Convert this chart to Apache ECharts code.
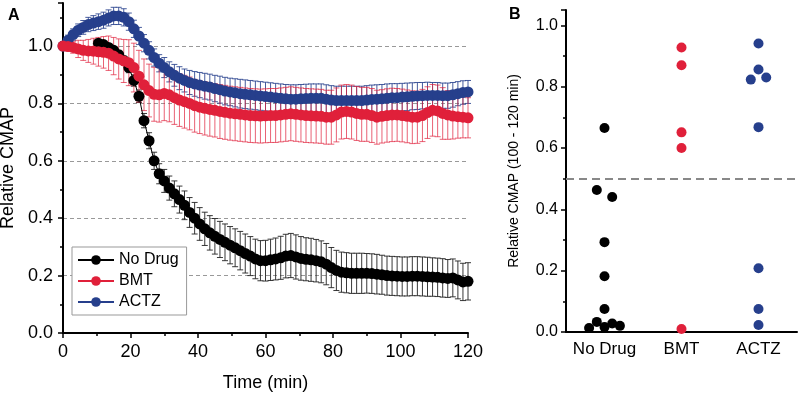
<!DOCTYPE html>
<html>
<head>
<meta charset="utf-8">
<script src="https://cdn.jsdelivr.net/npm/echarts@6/dist/echarts.min.js"></script>
<style>
  html, body { margin: 0; padding: 0; background: #fff; }
  #main { width: 800px; height: 397px; }
</style>
</head>
<body>
<div id="main"></div>
<script>
// ---- panel A: relative CMAP over time (sampled every 1.5 min) ----
var time = [];
for (var k = 0; k <= 80; k++) time.push(k * 1.5);

var noDrug = [null, null, null, null, null, null, null,
  1.01, 1.005, 0.995, 0.985, 0.97, 0.95, 0.925, 0.88, 0.825, 0.74, 0.67, 0.6, 0.555, 0.53,
  0.505, 0.485, 0.465, 0.445, 0.42, 0.4, 0.38, 0.363, 0.349, 0.337, 0.326, 0.316, 0.306, 0.297,
  0.287, 0.277, 0.268, 0.258, 0.252, 0.252, 0.255, 0.258, 0.262, 0.268, 0.27, 0.265, 0.26, 0.257,
  0.255, 0.252, 0.248, 0.24, 0.228, 0.218, 0.212, 0.21, 0.208, 0.208, 0.208, 0.208, 0.207, 0.205,
  0.203, 0.2, 0.199, 0.198, 0.197, 0.197, 0.198, 0.198, 0.197, 0.196, 0.195, 0.194, 0.192, 0.19,
  0.192, 0.185, 0.178, 0.18];
var noDrugErr = [null, null, null, null, null, null, null,
  0.01, 0.01, 0.012, 0.012, 0.015, 0.015, 0.018, 0.02, 0.022, 0.025, 0.028, 0.03, 0.035, 0.04,
  0.042, 0.045, 0.047, 0.05, 0.052, 0.055, 0.057, 0.058, 0.06, 0.062, 0.063, 0.064, 0.065, 0.066,
  0.067, 0.068, 0.068, 0.069, 0.07, 0.071, 0.072, 0.073, 0.075, 0.076, 0.077, 0.077, 0.076, 0.075,
  0.075, 0.074, 0.073, 0.072, 0.07, 0.07, 0.07, 0.07, 0.07, 0.07, 0.07, 0.069, 0.069, 0.069,
  0.068, 0.068, 0.068, 0.068, 0.068, 0.068, 0.068, 0.068, 0.068, 0.068, 0.067, 0.067, 0.067, 0.066,
  0.066, 0.066, 0.065, 0.065];

var bmt = [1.0, 0.998, 0.995, 0.99, 0.985, 0.983, 0.982, 0.98, 0.978, 0.975, 0.965, 0.955, 0.948,
  0.942, 0.925, 0.895, 0.865, 0.845, 0.832, 0.83, 0.835, 0.83, 0.82, 0.812, 0.806, 0.8, 0.792,
  0.787, 0.783, 0.779, 0.776, 0.772, 0.769, 0.766, 0.764, 0.762, 0.76, 0.758, 0.757, 0.756, 0.757,
  0.758, 0.758, 0.76, 0.762, 0.764, 0.762, 0.76, 0.758, 0.757, 0.756, 0.755, 0.752, 0.752, 0.76,
  0.77, 0.772, 0.77, 0.765, 0.762, 0.762, 0.758, 0.752, 0.755, 0.758, 0.76, 0.76, 0.758, 0.755,
  0.752, 0.752, 0.758, 0.768, 0.776, 0.774, 0.765, 0.76, 0.756, 0.754, 0.752, 0.75];
var bmtErr = [0.01, 0.015, 0.02, 0.03, 0.035, 0.04, 0.045, 0.05, 0.055, 0.06, 0.065, 0.07, 0.075,
  0.08, 0.085, 0.09, 0.09, 0.092, 0.094, 0.095, 0.095, 0.094, 0.093, 0.092, 0.092, 0.092, 0.092,
  0.092, 0.093, 0.093, 0.093, 0.094, 0.094, 0.094, 0.094, 0.094, 0.094, 0.094, 0.094, 0.094, 0.094,
  0.094, 0.094, 0.094, 0.094, 0.094, 0.094, 0.094, 0.094, 0.094, 0.094, 0.094, 0.094, 0.094, 0.094,
  0.094, 0.094, 0.094, 0.094, 0.094, 0.094, 0.094, 0.094, 0.093, 0.093, 0.093, 0.092, 0.092, 0.092,
  0.092, 0.091, 0.091, 0.09, 0.09, 0.09, 0.09, 0.085, 0.08, 0.075, 0.072, 0.07];

var actz = [1.0, 1.02, 1.04, 1.055, 1.065, 1.075, 1.08, 1.085, 1.09, 1.098, 1.105, 1.105, 1.1,
  1.085, 1.06, 1.035, 1.01, 0.985, 0.96, 0.94, 0.925, 0.91, 0.898, 0.888, 0.88, 0.873, 0.868,
  0.864, 0.86, 0.857, 0.852, 0.848, 0.843, 0.84, 0.837, 0.834, 0.832, 0.83, 0.828, 0.826, 0.824,
  0.822, 0.82, 0.818, 0.816, 0.815, 0.815, 0.816, 0.817, 0.818, 0.818, 0.818, 0.815, 0.812, 0.81,
  0.81, 0.81, 0.81, 0.81, 0.81, 0.812, 0.814, 0.815, 0.816, 0.818, 0.82, 0.82, 0.822, 0.823,
  0.825, 0.826, 0.827, 0.828, 0.828, 0.828, 0.827, 0.827, 0.83, 0.834, 0.838, 0.84];
var actzErr = [0.015, 0.018, 0.02, 0.022, 0.024, 0.025, 0.026, 0.027, 0.028, 0.028, 0.03, 0.03, 0.03,
  0.03, 0.03, 0.03, 0.03, 0.03, 0.03, 0.03, 0.035, 0.035, 0.038, 0.04, 0.04, 0.042, 0.043,
  0.044, 0.045, 0.045, 0.046, 0.047, 0.048, 0.048, 0.049, 0.05, 0.05, 0.05, 0.05, 0.05, 0.05,
  0.05, 0.05, 0.05, 0.05, 0.05, 0.05, 0.05, 0.05, 0.05, 0.05, 0.05, 0.05, 0.05, 0.05,
  0.05, 0.05, 0.05, 0.05, 0.05, 0.05, 0.05, 0.05, 0.05, 0.05, 0.049, 0.049, 0.048, 0.048,
  0.047, 0.047, 0.046, 0.046, 0.045, 0.045, 0.044, 0.044, 0.043, 0.042, 0.041, 0.04];

// ---- panel B: relative CMAP (100 - 120 min) per group ----
var groups = ['No Drug', 'BMT', 'ACTZ'];
var noDrugB = [0.665, 0.463, 0.44, 0.293, 0.182, 0.075, 0.033, 0.013, 0.016, 0.028, 0.02];
var noDrugJit = [0, -0.1, 0.1, 0, 0, 0, -0.1, -0.2, 0, 0.1, 0.2];
var bmtB = [0.928, 0.87, 0.651, 0.6, 0.01];
var bmtJit = [0, 0, 0, 0, 0];
var actzB = [0.941, 0.856, 0.823, 0.83, 0.668, 0.208, 0.075, 0.023];
var actzJit = [0, 0, -0.1, 0.1, 0, 0, 0, 0];
var threshold = 0.5;

var BLACK = '#000000', RED = '#e0203a', BLUE = '#263f8c';
var FONT = "'Liberation Sans', Arial, sans-serif";

function pairs(vals) {
  var out = [];
  for (var i = 0; i < time.length; i++) if (vals[i] != null) out.push([time[i], vals[i]]);
  return out;
}
function bars(vals, errs) {
  var out = [];
  for (var i = 0; i < time.length; i++)
    if (vals[i] != null) out.push([time[i], vals[i] - errs[i], vals[i] + errs[i]]);
  return out;
}
function jitter(vals, jit, pos) {
  return vals.map(function (v, i) { return [pos + jit[i], v]; });
}
function errRender(color, opacity) {
  return function (params, api) {
    var t = api.value(0);
    var lo = api.coord([t, api.value(1)]);
    var hi = api.coord([t, api.value(2)]);
    var st = { stroke: color, lineWidth: 1, opacity: opacity };
    return {
      type: 'group',
      children: [
        { type: 'line', shape: { x1: lo[0], y1: lo[1], x2: hi[0], y2: hi[1] }, style: st },
        { type: 'line', shape: { x1: hi[0] - 3, y1: hi[1], x2: hi[0] + 3, y2: hi[1] }, style: st },
        { type: 'line', shape: { x1: lo[0] - 3, y1: lo[1], x2: lo[0] + 3, y2: lo[1] }, style: st }
      ]
    };
  };
}
function errSeries(name, vals, errs, color, opacity) {
  return {
    name: name, type: 'custom', xAxisIndex: 0, yAxisIndex: 0,
    renderItem: errRender(color, opacity),
    encode: { x: 0, y: [1, 2] },
    data: bars(vals, errs), silent: true
  };
}
function lineSeries(name, vals, color) {
  return {
    name: name, type: 'line', xAxisIndex: 0, yAxisIndex: 0,
    data: pairs(vals), symbol: 'circle', symbolSize: 11, showSymbol: true,
    itemStyle: { color: color, opacity: 1 }, lineStyle: { color: color, width: 1 }
  };
}
function dotSeries(name, data, color, extra) {
  var s = {
    name: name, type: 'scatter', xAxisIndex: 3, yAxisIndex: 1,
    data: data, symbolSize: 10, itemStyle: { color: color, opacity: 1 }
  };
  for (var key in extra) s[key] = extra[key];
  return s;
}

var dom = document.getElementById('main');
var myChart = echarts.init(dom);

var option = {
  backgroundColor: '#ffffff',
  animation: false,
  textStyle: { fontFamily: FONT },
  title: [
    { text: 'A', left: 3, top: 3, textStyle: { fontSize: 16, fontWeight: 'bold', color: '#000', fontFamily: FONT } },
    { text: 'B', left: 504, top: 2, textStyle: { fontSize: 16, fontWeight: 'bold', color: '#000', fontFamily: FONT } }
  ],
  legend: {
    data: ['No Drug', 'BMT', 'ACTZ'],
    orient: 'vertical',
    left: 72, top: 247,
    itemWidth: 36, itemHeight: 12, itemGap: 5,
    padding: [5, 8, 5, 5],
    borderColor: '#999', borderWidth: 1,
    backgroundColor: '#fff',
    textStyle: { fontSize: 16, color: '#000', fontFamily: FONT }
  },
  grid: [
    { left: 63, top: 3, width: 405, height: 330, outerBoundsMode: 'none' },
    { left: 566, top: 10, width: 231, height: 322, outerBoundsMode: 'none' }
  ],
  xAxis: [
    {
      gridIndex: 0, type: 'value', min: 0, max: 120, interval: 20,
      name: 'Time (min)', nameLocation: 'middle', nameGap: 41,
      nameTextStyle: { fontSize: 18, color: '#000', fontFamily: FONT },
      axisLine: { lineStyle: { color: '#000', width: 2 } },
      axisTick: { length: 5, lineStyle: { color: '#000', width: 1.5 } },
      minorTick: { show: true, splitNumber: 2, length: 3, lineStyle: { color: '#000', width: 1.5 } },
      axisLabel: { fontSize: 18, color: '#000', margin: 10, fontFamily: FONT },
      splitLine: { show: false }
    },
    { gridIndex: 0, type: 'value', show: false },
    {
      gridIndex: 1, type: 'category', data: groups, boundaryGap: true,
      axisLine: { lineStyle: { color: '#000', width: 2 } },
      axisTick: { alignWithLabel: true, length: 5, lineStyle: { color: '#000', width: 1.5 } },
      axisLabel: { interval: 0, fontSize: 17, color: '#000', margin: 9, fontFamily: FONT },
      splitLine: { show: false }
    },
    { gridIndex: 1, type: 'value', min: 0.5, max: 3.5, show: false }
  ],
  yAxis: [
    {
      gridIndex: 0, type: 'value', min: 0, max: 1.15, interval: 0.2,
      name: 'Relative CMAP', nameLocation: 'middle', nameGap: 42,
      nameTextStyle: { fontSize: 18, color: '#000', fontFamily: FONT },
      axisLine: { show: true, lineStyle: { color: '#000', width: 2 } },
      axisTick: { show: true, length: 5, lineStyle: { color: '#000', width: 1.5 } },
      minorTick: { show: true, splitNumber: 2, length: 3, lineStyle: { color: '#000', width: 1.5 } },
      axisLabel: {
        fontSize: 18, color: '#000', margin: 10, fontFamily: FONT, showMaxLabel: false,
        formatter: function (v) { return v.toFixed(1); }
      },
      splitLine: {
        show: true, showMinLine: false, showMaxLine: false,
        lineStyle: { color: '#999', type: [4, 3], width: 1 }
      }
    },
    {
      gridIndex: 1, type: 'value', min: 0, max: 1.05, interval: 0.2,
      name: 'Relative CMAP (100 - 120 min)', nameLocation: 'middle', nameGap: 45,
      nameTextStyle: { fontSize: 14, color: '#000', fontFamily: FONT },
      axisLine: { show: true, lineStyle: { color: '#000', width: 2 } },
      axisTick: { show: true, length: 5, lineStyle: { color: '#000', width: 1.5 } },
      minorTick: { show: true, splitNumber: 2, length: 3, lineStyle: { color: '#000', width: 1.5 } },
      axisLabel: {
        fontSize: 16, color: '#000', margin: 8, fontFamily: FONT, showMaxLabel: false,
        formatter: function (v) { return v.toFixed(1); }
      },
      splitLine: { show: false }
    }
  ],
  series: [
    errSeries('No Drug err', noDrug, noDrugErr, '#222', 0.9),
    lineSeries('No Drug', noDrug, BLACK),
    errSeries('ACTZ err', actz, actzErr, BLUE, 0.85),
    lineSeries('ACTZ', actz, BLUE),
    errSeries('BMT err', bmt, bmtErr, RED, 0.7),
    lineSeries('BMT', bmt, RED),
    dotSeries('No Drug B', jitter(noDrugB, noDrugJit, 1), BLACK, {}),
    dotSeries('BMT B', jitter(bmtB, bmtJit, 2), RED, {
      markLine: {
        silent: true, symbol: 'none', label: { show: false },
        lineStyle: { color: '#888', type: [8, 5], width: 2 },
        data: [{ yAxis: threshold }]
      }
    }),
    dotSeries('ACTZ B', jitter(actzB, actzJit, 3), BLUE, {})
  ]
};

window.onresize = function () {
  myChart.resize();
};

if (option && typeof option === 'object') {
  myChart.setOption(option);
}
</script>
</body>
</html>
